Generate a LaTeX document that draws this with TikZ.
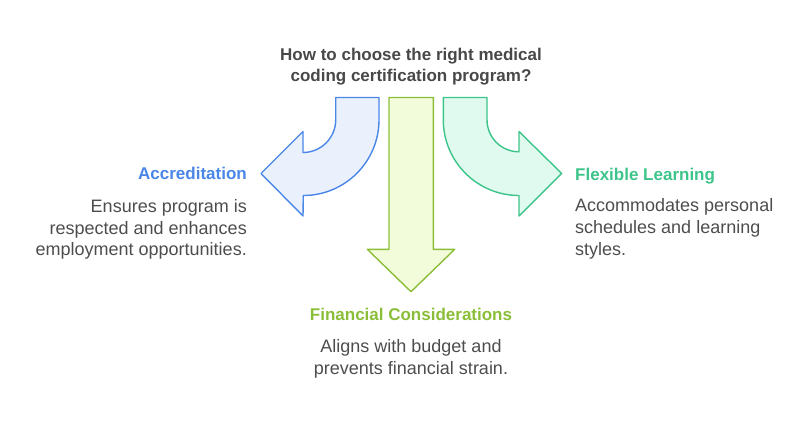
\documentclass[tikz,border=0pt]{standalone}
\usepackage{fontspec}
\setmainfont{Liberation Sans}
\definecolor{titlegray}{RGB}{72,72,72}
\definecolor{bodygray}{RGB}{77,77,77}
\definecolor{accblue}{RGB}{74,134,232}
\definecolor{accfill}{RGB}{234,241,253}
\definecolor{finlime}{RGB}{139,190,56}
\definecolor{finfill}{RGB}{243,252,218}
\definecolor{flexgreen}{RGB}{61,196,138}
\definecolor{flexfill}{RGB}{224,250,239}
\tikzset{
  head/.style={font=\bfseries\fontsize{17}{21}\selectfont},
  body/.style={font=\fontsize{18}{21.7}\selectfont,text=bodygray,inner sep=0pt},
  bigarrow/.style={line width=1.4pt,line join=round}
}
\begin{document}
\begin{tikzpicture}[x=1pt,y=-1pt]
  \useasboundingbox (0,0) rectangle (812,423);
  % arrows
  \filldraw[bigarrow,draw=accblue,fill=accfill] (335.7,97.5) -- (379,97.5) -- (379,119.8)
    arc[start angle=0,end angle=90,radius=75.7] -- (303,216) -- (261,173.5)
    -- (303,131.5) -- (303,152.5) arc[start angle=90,end angle=0,radius=32.7] -- cycle;
  \filldraw[bigarrow,draw=finlime,fill=finfill] (389,97.5) -- (433.3,97.5) -- (433.3,249.3)
    -- (454.7,249.3) -- (411,291.7) -- (367.3,249.3) -- (389,249.3) -- cycle;
  \filldraw[bigarrow,draw=flexgreen,fill=flexfill] (443.3,97.5) -- (487,97.5) -- (487,119.8)
    arc[start angle=180,end angle=90,radius=32] -- (519,131.5) -- (561.7,173.5)
    -- (519,216) -- (519,195.5) arc[start angle=90,end angle=180,radius=75.7] -- cycle;
  % texts (base = last line)
  \node[head,text=titlegray,align=center,inner sep=0pt,anchor=base] (title) at (411,81.7)
    {How to choose the right medical\\coding certification program?};
  \node[head,text=accblue,inner sep=0pt,anchor=base east] (accr) at (247,179) {Accreditation};
  \node[body,align=right,anchor=base east] (accrtext) at (247,255.7)
    {Ensures program is\\respected and enhances\\employment opportunities.};
  \node[head,text=flexgreen,inner sep=0pt,anchor=base west] (flex) at (575,180) {Flexible Learning};
  \node[body,align=left,anchor=base west] (flextext) at (575,255.2)
    {Accommodates personal\\schedules and learning\\styles.};
  \node[head,text=finlime,inner sep=0pt,anchor=base] (fin) at (411,320) {Financial Considerations};
  \node[body,align=center,anchor=base] (fintext) at (411,374)
    {Aligns with budget and\\prevents financial strain.};
\end{tikzpicture}
\end{document}
